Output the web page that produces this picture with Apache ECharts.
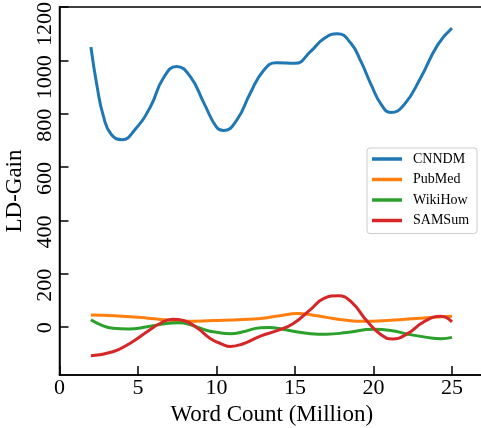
<!DOCTYPE html>
<html>
<head>
<meta charset="utf-8">
<script src="https://cdn.jsdelivr.net/npm/echarts@6/dist/echarts.min.js"></script>
<style>
html,body{margin:0;padding:0;background:#fff;}
#c{width:481px;height:428px;}
</style>
</head>
<body>
<div id="c"></div>
<script>
// ---- data ----
const seriesNames = ['CNNDM', 'PubMed', 'WikiHow', 'SAMSum'];
const colors = ['#1f77b4', '#ff7f0e', '#2ca02c', '#d62728'];
const xTicks = [0, 5, 10, 15, 20, 25];
const yTicks = [0, 200, 400, 600, 800, 1000, 1200];

const cnndm = [[2,1050],[2.4,900],[2.8,790],[3.3,722],[4.0,703],[4.8,740],[5.8,827],[6.6,932],[7.45,977],[8.3,942],[9.2,840],[10.0,750],[10.45,737],[11.3,777],[12.15,877],[13.0,962],[13.8,991],[15.0,989],[16.0,1034],[16.85,1082],[17.7,1100],[18.55,1065],[19.2,996],[19.85,909],[20.5,834],[21.1,805],[21.95,834],[23.0,934],[24.1,1059],[25,1121]];
const pubmed = [[2,46],[3.5,43],[5.5,35],[6.6,28],[8.1,22],[9.8,25],[11.7,29],[12.8,33],[13.9,42],[15.2,51],[16.0,47],[17.0,37],[18.3,26],[19.3,22],[21.1,26],[23.2,35],[25,41]];
const wikihow = [[2,28],[2.6,10],[3.4,-4],[4.4,-7],[5.6,2],[6.8,14],[7.6,17],[8.5,6],[9.4,-12],[10.0,-19],[10.9,-24],[11.7,-17],[12.8,-2],[13.4,-1],[13.9,-4],[14.9,-15],[16.0,-24],[17.0,-26],[18.3,-20],[20.0,-8],[21.1,-12],[22.2,-26],[23.4,-38],[24.3,-43],[25,-38]];
const samsum = [[2,-107],[3.4,-92],[4.5,-60],[5.6,-16],[6.4,14],[7.2,30],[7.9,25],[8.8,-4],[9.6,-42],[10.3,-62],[10.9,-72],[11.7,-62],[12.8,-33],[13.9,-12],[14.9,14],[16.0,67],[16.85,108],[17.75,118],[18.6,94],[19.6,22],[20.5,-29],[21.2,-44],[22.2,-23],[23.2,20],[24.3,41],[25,20]];
const allData = [cnndm, pubmed, wikihow, samsum];

const FONT = '"Liberation Serif", "DejaVu Serif", serif';
const chart = echarts.init(document.getElementById('c'), null, {renderer: 'canvas'});
chart.setOption({
  backgroundColor: '#fff',
  animation: false,
  grid: {left: 59.5, right: -3, top: 7, bottom: 53, containLabel: false, outerBoundsMode: 'none', show: true, borderColor: '#000', borderWidth: 1.5, backgroundColor: 'transparent'},
  legend: {
    data: seriesNames,
    left: 367, top: 148,
    orient: 'vertical',
    icon: 'rect',
    itemWidth: 30, itemHeight: 3.5, itemGap: 6.5,
    padding: [4, 8, 6, 5],
    borderColor: '#cccccc', borderWidth: 1, borderRadius: 3,
    backgroundColor: 'rgba(255,255,255,0.8)',
    textStyle: {fontFamily: FONT, fontSize: 14, lineHeight: 14, color: '#000', padding: [0, 0, 0, 6]}
  },
  xAxis: {
    type: 'value', min: 0, max: 27.04,
    name: 'Word Count (Million)', nameLocation: 'middle', nameGap: 25,
    nameTextStyle: {fontFamily: FONT, fontSize: 23, color: '#000'},
    axisLine: {show: true, onZero: false, lineStyle: {color: '#000', width: 1.5}},
    axisTick: {show: true, inside: true, length: 9, customValues: xTicks, lineStyle: {color: '#000', width: 1.5}},
    axisLabel: {show: true, customValues: xTicks, margin: 2, fontFamily: FONT, fontSize: 22, color: '#000', formatter: v => String(v)},
    splitLine: {show: false}
  },
  yAxis: {
    type: 'value', min: -179, max: 1200,
    name: 'LD-Gain', nameLocation: 'middle', nameGap: 32,
    nameTextStyle: {fontFamily: FONT, fontSize: 23, color: '#000'},
    axisLine: {show: true, onZero: false, lineStyle: {color: '#000', width: 1.5}},
    axisTick: {show: true, inside: true, length: 9, customValues: yTicks, lineStyle: {color: '#000', width: 1.5}},
    axisLabel: {show: true, customValues: yTicks, rotate: 90, align: 'right', verticalAlign: 'bottom', padding: [0, -5, 0, 0], margin: 3, fontFamily: FONT, fontSize: 22, color: '#000', formatter: v => String(v)},
    splitLine: {show: false}
  },
  series: seriesNames.map((n, i) => ({
    name: n, type: 'line', data: allData[i], smooth: true,
    symbol: 'none', showSymbol: false,
    lineStyle: {color: colors[i], width: 3},
    itemStyle: {color: colors[i]}
  }))
});
</script>
</body>
</html>
